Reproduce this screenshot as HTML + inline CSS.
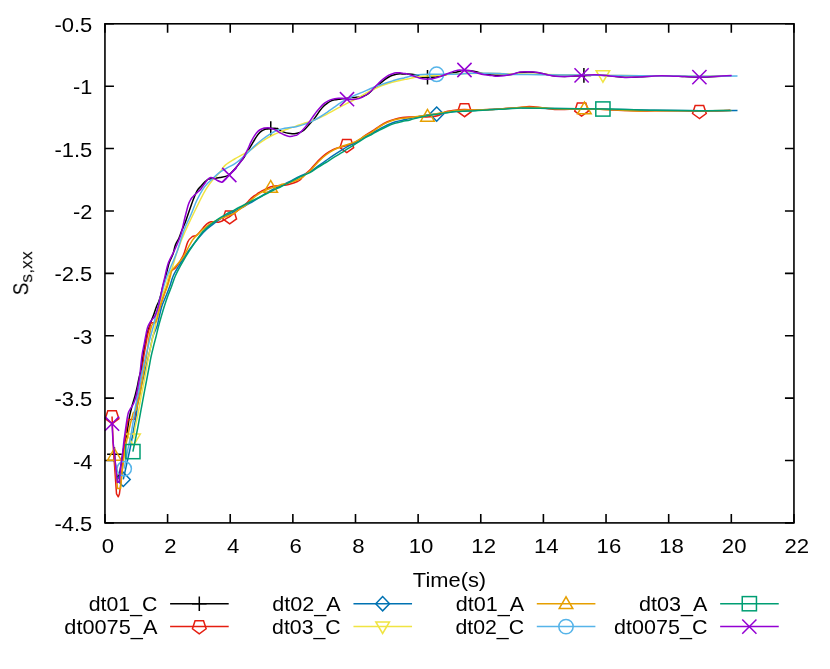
<!DOCTYPE html>
<html lang="en"><head><meta charset="utf-8"><title>S_s,xx vs Time(s)</title>
<style>html,body{margin:0;padding:0;background:#fff;}svg{display:block;}text{font-family:"Liberation Sans",sans-serif;fill:#000;}</style></head><body>
<svg width="830" height="669" viewBox="0 0 830 669" role="img" aria-label="Line chart of S s,xx versus Time(s) for eight series">
<rect x="0" y="0" width="830" height="669" fill="#ffffff"/>
<path d="M104.95,522.90V513.90M104.95,23.80V32.80M167.59,522.90V513.90M167.59,23.80V32.80M230.22,522.90V513.90M230.22,23.80V32.80M292.86,522.90V513.90M292.86,23.80V32.80M355.50,522.90V513.90M355.50,23.80V32.80M418.13,522.90V513.90M418.13,23.80V32.80M480.77,522.90V513.90M480.77,23.80V32.80M543.40,522.90V513.90M543.40,23.80V32.80M606.04,522.90V513.90M606.04,23.80V32.80M668.68,522.90V513.90M668.68,23.80V32.80M731.31,522.90V513.90M731.31,23.80V32.80M793.95,522.90V513.90M793.95,23.80V32.80M104.95,23.80H113.95M793.95,23.80H784.95M104.95,86.19H113.95M793.95,86.19H784.95M104.95,148.57H113.95M793.95,148.57H784.95M104.95,210.96H113.95M793.95,210.96H784.95M104.95,273.35H113.95M793.95,273.35H784.95M104.95,335.74H113.95M793.95,335.74H784.95M104.95,398.12H113.95M793.95,398.12H784.95M104.95,460.51H113.95M793.95,460.51H784.95M104.95,522.90H113.95M793.95,522.90H784.95" fill="none" stroke="#000" stroke-width="1.60"/>
<g style="mix-blend-mode:multiply">
<text x="107.85" y="553.00" text-anchor="middle" font-size="19.80" textLength="12.34" lengthAdjust="spacingAndGlyphs">0</text>
<text x="170.49" y="553.00" text-anchor="middle" font-size="19.80" textLength="12.34" lengthAdjust="spacingAndGlyphs">2</text>
<text x="233.12" y="553.00" text-anchor="middle" font-size="19.80" textLength="12.34" lengthAdjust="spacingAndGlyphs">4</text>
<text x="295.76" y="553.00" text-anchor="middle" font-size="19.80" textLength="12.34" lengthAdjust="spacingAndGlyphs">6</text>
<text x="358.40" y="553.00" text-anchor="middle" font-size="19.80" textLength="12.34" lengthAdjust="spacingAndGlyphs">8</text>
<text x="421.03" y="553.00" text-anchor="middle" font-size="19.80" textLength="24.68" lengthAdjust="spacingAndGlyphs">10</text>
<text x="483.67" y="553.00" text-anchor="middle" font-size="19.80" textLength="24.68" lengthAdjust="spacingAndGlyphs">12</text>
<text x="546.30" y="553.00" text-anchor="middle" font-size="19.80" textLength="24.68" lengthAdjust="spacingAndGlyphs">14</text>
<text x="608.94" y="553.00" text-anchor="middle" font-size="19.80" textLength="24.68" lengthAdjust="spacingAndGlyphs">16</text>
<text x="671.58" y="553.00" text-anchor="middle" font-size="19.80" textLength="24.68" lengthAdjust="spacingAndGlyphs">18</text>
<text x="734.21" y="553.00" text-anchor="middle" font-size="19.80" textLength="24.68" lengthAdjust="spacingAndGlyphs">20</text>
<text x="796.85" y="553.00" text-anchor="middle" font-size="19.80" textLength="24.68" lengthAdjust="spacingAndGlyphs">22</text>
<text x="92.30" y="31.90" text-anchor="end" font-size="19.80" textLength="37.85" lengthAdjust="spacingAndGlyphs">-0.5</text>
<text x="92.30" y="94.29" text-anchor="end" font-size="19.80" textLength="19.34" lengthAdjust="spacingAndGlyphs">-1</text>
<text x="92.30" y="156.67" text-anchor="end" font-size="19.80" textLength="37.85" lengthAdjust="spacingAndGlyphs">-1.5</text>
<text x="92.30" y="219.06" text-anchor="end" font-size="19.80" textLength="19.34" lengthAdjust="spacingAndGlyphs">-2</text>
<text x="92.30" y="281.45" text-anchor="end" font-size="19.80" textLength="37.85" lengthAdjust="spacingAndGlyphs">-2.5</text>
<text x="92.30" y="343.84" text-anchor="end" font-size="19.80" textLength="19.34" lengthAdjust="spacingAndGlyphs">-3</text>
<text x="92.30" y="406.23" text-anchor="end" font-size="19.80" textLength="37.85" lengthAdjust="spacingAndGlyphs">-3.5</text>
<text x="92.30" y="468.61" text-anchor="end" font-size="19.80" textLength="19.34" lengthAdjust="spacingAndGlyphs">-4</text>
<text x="92.30" y="531.00" text-anchor="end" font-size="19.80" textLength="37.85" lengthAdjust="spacingAndGlyphs">-4.5</text>
<text x="449.50" y="587.00" text-anchor="middle" font-size="19.80" textLength="73.31" lengthAdjust="spacingAndGlyphs">Time(s)</text>
<g transform="translate(28.2,295.0) rotate(-90)">
<text x="-0.30" y="0.00" text-anchor="start" font-size="21.90" textLength="12.62" lengthAdjust="spacingAndGlyphs">S</text>
<text x="12.32" y="3.90" text-anchor="start" font-size="17.00" textLength="31.46" lengthAdjust="spacingAndGlyphs">s,xx</text>
</g>
</g>
<g>
<path d="M114.40,454.20L116.00,470.00L117.50,479.50L119.50,474.00L121.50,462.00C122.17,457.83 122.88,452.67 123.50,449.00C124.12,445.33 124.72,442.17 125.20,440.00C125.68,437.83 125.90,438.50 126.40,436.00C126.90,433.50 127.67,428.33 128.20,425.00C128.73,421.67 128.92,419.33 129.60,416.00C130.28,412.67 131.40,408.33 132.30,405.00C133.20,401.67 134.18,399.00 135.00,396.00C135.82,393.00 136.53,390.00 137.20,387.00C137.87,384.00 138.30,381.07 139.00,378.00C139.70,374.93 140.82,371.67 141.40,368.60C141.98,365.53 141.93,363.53 142.50,359.60C143.07,355.67 144.13,348.93 144.80,345.00C145.47,341.07 145.88,338.67 146.50,336.00C147.12,333.33 147.93,330.83 148.50,329.00C149.07,327.17 149.38,326.50 149.90,325.00C150.42,323.50 151.05,321.50 151.60,320.00C152.15,318.50 152.35,318.33 153.20,316.00C154.05,313.67 155.77,308.43 156.70,306.00C157.63,303.57 158.17,303.07 158.80,301.40C159.43,299.73 159.80,298.57 160.50,296.00C161.20,293.43 162.20,289.00 163.00,286.00C163.80,283.00 164.27,281.87 165.30,278.00C166.33,274.13 167.92,266.80 169.20,262.80C170.48,258.80 171.97,256.97 173.00,254.00C174.03,251.03 174.40,247.67 175.40,245.00C176.40,242.33 177.97,240.33 179.00,238.00C180.03,235.67 180.67,233.33 181.60,231.00C182.53,228.67 183.73,226.17 184.60,224.00C185.47,221.83 185.38,222.00 186.80,218.00C188.22,214.00 191.37,204.55 193.10,200.00C194.83,195.45 195.90,193.00 197.20,190.70C198.50,188.40 199.53,187.75 200.90,186.20C202.27,184.65 204.15,182.58 205.40,181.40C206.65,180.22 207.02,179.57 208.40,179.10C209.78,178.63 211.77,178.87 213.70,178.60C215.63,178.33 217.63,178.00 220.00,177.50C222.37,177.00 225.98,176.43 227.90,175.60C229.82,174.77 230.07,173.93 231.50,172.50C232.93,171.07 235.00,168.78 236.50,167.00C238.00,165.22 239.22,163.45 240.50,161.80C241.78,160.15 242.47,159.75 244.20,157.10C245.93,154.45 249.15,148.83 250.90,145.90C252.65,142.97 253.45,141.50 254.70,139.50C255.95,137.50 257.15,135.38 258.40,133.90C259.65,132.42 260.95,131.40 262.20,130.60C263.45,129.80 264.78,129.42 265.90,129.10C267.02,128.78 267.55,128.78 268.90,128.70C270.25,128.62 272.50,128.57 274.00,128.60C275.50,128.63 276.77,128.52 277.90,128.90C279.03,129.28 279.68,130.32 280.80,130.90C281.92,131.48 283.35,132.00 284.60,132.40C285.85,132.80 287.05,133.07 288.30,133.30C289.55,133.53 290.82,133.77 292.10,133.80C293.38,133.83 294.72,133.72 296.00,133.50C297.28,133.28 298.43,133.08 299.80,132.50C301.17,131.92 302.57,131.42 304.20,130.00C305.83,128.58 307.85,125.98 309.60,124.00C311.35,122.02 312.98,120.33 314.70,118.10C316.42,115.87 318.42,112.58 319.90,110.60C321.38,108.62 322.35,107.43 323.60,106.20C324.85,104.97 326.15,104.08 327.40,103.20C328.65,102.32 329.87,101.47 331.10,100.90C332.33,100.33 333.55,100.07 334.80,99.80C336.05,99.53 337.32,99.47 338.60,99.30C339.88,99.13 341.10,98.98 342.50,98.80C343.90,98.62 345.50,98.40 347.00,98.20C348.50,98.00 350.13,97.73 351.50,97.60C352.87,97.47 353.87,97.50 355.20,97.40C356.53,97.30 358.08,97.23 359.50,97.00C360.92,96.77 362.28,96.53 363.70,96.00C365.12,95.47 366.45,94.88 368.00,93.80C369.55,92.72 371.40,90.83 373.00,89.50C374.60,88.17 376.20,86.98 377.60,85.80C379.00,84.62 380.15,83.47 381.40,82.40C382.65,81.33 383.87,80.30 385.10,79.40C386.33,78.50 387.55,77.68 388.80,77.00C390.05,76.32 391.35,75.77 392.60,75.30C393.85,74.83 395.07,74.45 396.30,74.20C397.53,73.95 398.72,73.83 400.00,73.80C401.28,73.77 402.75,73.98 404.00,74.00C405.25,74.02 405.68,73.78 407.50,73.90C409.32,74.02 413.07,74.35 414.90,74.70C416.73,75.05 417.25,75.57 418.50,76.00C419.75,76.43 420.50,77.05 422.40,77.30C424.30,77.55 427.40,77.59 429.90,77.50C432.40,77.41 435.22,77.08 437.40,76.75C439.58,76.42 441.13,75.97 443.00,75.50C444.87,75.03 446.43,74.45 448.60,73.90C450.77,73.35 454.10,72.65 456.00,72.20C457.90,71.75 458.97,71.47 460.00,71.20C461.03,70.93 460.58,70.67 462.20,70.60C463.82,70.53 467.20,70.58 469.70,70.80C472.20,71.02 474.72,71.35 477.20,71.90C479.68,72.45 482.13,73.58 484.60,74.10C487.07,74.62 489.43,74.80 492.00,75.00C494.57,75.20 496.82,75.37 500.00,75.30C503.18,75.23 507.75,75.07 511.10,74.60C514.45,74.13 517.12,72.93 520.10,72.50C523.08,72.07 526.02,71.95 529.00,72.00C531.98,72.05 535.00,72.38 538.00,72.80C541.00,73.22 544.02,73.97 547.00,74.50C549.98,75.03 552.92,75.68 555.90,76.00C558.88,76.32 561.90,76.42 564.90,76.40C567.90,76.38 570.73,76.07 573.90,75.90C577.07,75.73 580.40,75.57 583.90,75.40C587.40,75.23 590.57,74.83 594.90,74.90C599.23,74.97 604.92,75.42 609.90,75.80C614.88,76.18 619.82,77.03 624.80,77.20C629.78,77.37 634.82,77.02 639.80,76.80C644.78,76.58 649.72,76.05 654.70,75.90C659.68,75.75 664.72,75.80 669.70,75.90C674.68,76.00 679.65,76.32 684.60,76.50C689.55,76.68 694.33,77.02 699.40,77.00C704.47,76.98 709.68,76.62 715.00,76.40C720.32,76.18 728.58,75.82 731.30,75.70" fill="none" stroke="#000000" stroke-width="1.50" stroke-linejoin="round"/>
<path d="M107.10,454.20H121.70M114.40,446.90V461.50" fill="none" stroke="#000000" stroke-width="1.50"/>
<path d="M263.45,128.60H278.05M270.75,121.30V135.90" fill="none" stroke="#000000" stroke-width="1.50"/>
<path d="M420.20,77.30H434.80M427.50,70.00V84.60" fill="none" stroke="#000000" stroke-width="1.50"/>
<path d="M576.60,75.40H591.20M583.90,68.10V82.70" fill="none" stroke="#000000" stroke-width="1.50"/>
</g>
<g>
<path d="M112.05,416.50L113.40,449.00L115.00,472.00L116.50,493.80L118.30,496.80L119.40,494.00L120.60,484.80L123.30,457.90L125.00,440.00C125.62,434.52 126.47,428.42 127.00,425.00L128.20,419.50L134.60,419.20L135.80,410.00L137.50,397.00C138.13,393.00 138.95,389.50 139.60,386.00C140.25,382.50 140.90,379.33 141.40,376.00C141.90,372.67 142.18,369.33 142.60,366.00C143.02,362.67 143.40,359.33 143.90,356.00C144.40,352.67 145.03,349.33 145.60,346.00C146.17,342.67 146.82,338.67 147.35,336.00C147.88,333.33 148.39,331.42 148.80,330.00C149.21,328.58 149.55,328.63 149.80,327.50L150.30,323.20L155.30,322.30L156.00,320.00C156.35,318.95 156.70,318.33 157.40,316.00C158.10,313.67 159.17,309.33 160.20,306.00C161.23,302.67 162.50,299.33 163.60,296.00C164.70,292.67 165.90,289.00 166.80,286.00C167.70,283.00 168.37,280.38 169.00,278.00C169.63,275.62 169.45,273.48 170.60,271.70C171.75,269.92 173.78,270.03 175.90,267.30C178.02,264.57 181.32,259.53 183.30,255.30C185.28,251.07 186.30,245.02 187.80,241.90C189.30,238.78 190.80,237.73 192.30,236.60C193.80,235.47 194.93,236.63 196.80,235.10C198.67,233.57 201.77,229.30 203.50,227.40C205.23,225.50 205.97,224.63 207.20,223.70C208.43,222.77 209.65,222.12 210.90,221.80C212.15,221.48 213.45,221.73 214.70,221.80C215.95,221.87 217.15,222.33 218.40,222.20C219.65,222.07 220.95,221.57 222.20,221.00C223.45,220.43 224.65,219.53 225.90,218.80C227.15,218.07 227.82,217.90 229.70,216.60C231.58,215.30 234.98,212.72 237.20,211.00C239.42,209.28 241.37,207.65 243.00,206.30C244.63,204.95 245.85,204.02 247.00,202.90C248.15,201.78 248.92,200.60 249.90,199.60C250.88,198.60 251.90,197.70 252.90,196.90C253.90,196.10 254.90,195.50 255.90,194.80C256.90,194.10 257.90,193.35 258.90,192.70C259.90,192.05 260.90,191.45 261.90,190.90C262.90,190.35 263.90,189.88 264.90,189.40C265.90,188.92 266.90,188.43 267.90,188.00C268.90,187.57 269.92,187.13 270.90,186.80C271.88,186.47 272.28,186.22 273.80,186.00C275.32,185.78 277.92,185.67 280.00,185.50C282.08,185.33 284.30,185.33 286.30,185.00C288.30,184.67 290.25,184.05 292.00,183.50C293.75,182.95 295.47,182.28 296.80,181.70C298.13,181.12 299.07,180.78 300.00,180.00C300.93,179.22 301.57,177.92 302.40,177.00C303.23,176.08 303.58,175.85 305.00,174.50C306.42,173.15 308.67,171.22 310.90,168.90C313.13,166.58 315.90,163.10 318.40,160.60C320.90,158.10 323.40,155.77 325.90,153.90C328.40,152.03 331.28,150.45 333.40,149.40C335.52,148.35 336.37,148.25 338.60,147.60C340.83,146.95 344.12,146.30 346.80,145.50C349.48,144.70 352.50,143.80 354.70,142.80C356.90,141.80 358.30,140.70 360.00,139.50C361.70,138.30 362.83,137.02 364.90,135.60C366.97,134.18 369.90,132.63 372.40,131.00C374.90,129.37 377.40,127.35 379.90,125.80C382.40,124.25 384.92,122.82 387.40,121.70C389.88,120.58 392.32,119.78 394.80,119.10C397.28,118.42 399.77,117.95 402.30,117.60C404.83,117.25 407.23,117.15 410.00,117.00C412.77,116.85 416.17,116.70 418.90,116.70C421.63,116.70 423.28,117.15 426.40,117.00C429.52,116.85 434.48,116.63 437.60,115.80C440.72,114.97 442.60,112.88 445.10,112.00C447.60,111.12 449.45,110.97 452.60,110.55C455.75,110.13 460.27,109.61 464.00,109.50C467.73,109.39 470.68,109.88 475.00,109.90C479.32,109.92 484.90,109.82 489.90,109.60C494.90,109.38 499.98,108.97 505.00,108.60C510.02,108.23 515.95,107.75 520.00,107.40C524.05,107.05 526.00,106.50 529.30,106.50C532.60,106.50 535.57,106.90 539.80,107.40C544.03,107.90 549.72,109.20 554.70,109.50C559.68,109.80 565.22,109.25 569.70,109.20C574.18,109.15 576.55,109.18 581.60,109.20C586.65,109.22 592.80,109.07 600.00,109.30C607.20,109.53 618.17,110.32 624.80,110.60C631.43,110.88 634.82,110.97 639.80,111.00C644.78,111.03 648.00,110.83 654.70,110.80C661.40,110.77 672.55,110.73 680.00,110.80C687.45,110.87 693.57,111.18 699.40,111.20C705.23,111.22 709.90,111.05 715.00,110.90C720.10,110.75 727.50,110.40 730.00,110.30" fill="none" stroke="#e51e10" stroke-width="1.50" stroke-linejoin="round"/>
<path d="M112.05,423.70L105.20,418.72L107.82,410.68L116.28,410.68L118.90,418.72Z" fill="none" stroke="#e51e10" stroke-width="1.50"/>
<path d="M229.70,223.90L222.85,218.92L225.47,210.88L233.93,210.88L236.55,218.92Z" fill="none" stroke="#e51e10" stroke-width="1.50"/>
<path d="M346.80,152.60L339.95,147.62L342.57,139.58L351.03,139.58L353.65,147.62Z" fill="none" stroke="#e51e10" stroke-width="1.50"/>
<path d="M464.50,116.70L457.65,111.72L460.27,103.68L468.73,103.68L471.35,111.72Z" fill="none" stroke="#e51e10" stroke-width="1.50"/>
<path d="M581.60,116.10L574.75,111.12L577.37,103.08L585.83,103.08L588.45,111.12Z" fill="none" stroke="#e51e10" stroke-width="1.50"/>
<path d="M699.40,118.50L692.55,113.52L695.17,105.48L703.63,105.48L706.25,113.52Z" fill="none" stroke="#e51e10" stroke-width="1.50"/>
</g>
<g>
<path d="M123.30,479.40L129.80,450.00C131.28,443.02 131.45,441.50 132.20,437.50C132.95,433.50 133.63,429.58 134.30,426.00C134.97,422.42 135.68,419.33 136.20,416.00C136.72,412.67 136.87,409.33 137.40,406.00C137.93,402.67 138.73,399.33 139.40,396.00C140.07,392.67 140.67,389.33 141.40,386.00C142.13,382.67 143.00,379.33 143.80,376.00C144.60,372.67 145.40,369.33 146.20,366.00C147.00,362.67 147.83,359.33 148.60,356.00C149.37,352.67 150.07,349.33 150.80,346.00C151.53,342.67 151.95,339.33 153.00,336.00C154.05,332.67 156.03,329.33 157.10,326.00C158.17,322.67 158.60,319.33 159.40,316.00C160.20,312.67 160.80,309.33 161.90,306.00C163.00,302.67 164.67,299.33 166.00,296.00C167.33,292.67 168.70,289.33 169.90,286.00C171.10,282.67 171.70,279.37 173.20,276.00C174.70,272.63 176.33,270.00 178.90,265.80C181.47,261.60 185.12,255.70 188.60,250.80C192.08,245.90 196.73,240.03 199.80,236.40C202.87,232.77 204.52,231.25 207.00,229.00C209.48,226.75 212.53,224.53 214.70,222.90C216.87,221.27 218.13,220.38 220.00,219.20C221.87,218.02 223.67,216.98 225.90,215.80C228.13,214.62 231.38,213.15 233.40,212.10C235.42,211.05 236.23,210.43 238.00,209.50C239.77,208.57 242.02,207.55 244.00,206.50C245.98,205.45 247.92,204.35 249.90,203.20C251.88,202.05 253.90,200.80 255.90,199.60C257.90,198.40 259.90,197.25 261.90,196.00C263.90,194.75 265.92,193.29 267.90,192.10C269.88,190.91 271.78,189.83 273.80,188.85C275.82,187.87 278.17,187.04 280.00,186.20C281.83,185.36 282.80,184.78 284.80,183.80C286.80,182.82 289.47,181.58 292.00,180.30C294.53,179.02 297.02,177.50 300.00,176.10C302.98,174.70 306.83,173.60 309.90,171.90C312.97,170.20 315.73,167.78 318.40,165.90C321.07,164.02 323.40,162.35 325.90,160.60C328.40,158.85 330.92,157.07 333.40,155.40C335.88,153.73 338.32,152.15 340.80,150.60C343.28,149.05 346.05,147.35 348.30,146.10C350.55,144.85 352.77,143.95 354.30,143.10C355.83,142.25 355.73,142.08 357.50,141.00C359.27,139.92 362.42,137.95 364.90,136.60C367.38,135.25 369.90,134.20 372.40,132.90C374.90,131.60 377.40,130.12 379.90,128.80C382.40,127.48 384.92,126.13 387.40,125.00C389.88,123.87 392.32,122.80 394.80,122.00C397.28,121.20 399.77,120.77 402.30,120.20C404.83,119.63 407.23,119.20 410.00,118.60C412.77,118.00 416.17,117.20 418.90,116.60C421.63,116.00 423.43,115.42 426.40,115.00C429.37,114.58 432.97,114.57 436.70,114.10C440.43,113.63 444.25,112.72 448.80,112.20C453.35,111.68 459.63,111.27 464.00,111.00C468.37,110.73 470.68,110.83 475.00,110.60C479.32,110.37 484.90,109.90 489.90,109.60C494.90,109.30 499.98,109.10 505.00,108.80C510.02,108.50 516.70,107.93 520.00,107.80C523.30,107.67 519.02,107.87 524.80,108.00C530.58,108.13 542.17,108.42 554.70,108.60C567.23,108.78 588.32,108.93 600.00,109.10C611.68,109.27 615.68,109.40 624.80,109.60C633.92,109.80 642.17,110.12 654.70,110.30C667.23,110.48 686.20,110.67 700.00,110.70C713.80,110.73 731.25,110.53 737.50,110.50" fill="none" stroke="#0072b2" stroke-width="1.50" stroke-linejoin="round"/>
<path d="M123.30,472.30L116.40,479.40L123.30,486.50L130.20,479.40Z" fill="none" stroke="#0072b2" stroke-width="1.50"/>
<path d="M436.70,107.00L429.80,114.10L436.70,121.20L443.60,114.10Z" fill="none" stroke="#0072b2" stroke-width="1.50"/>
</g>
<g>
<path d="M133.50,438.70L135.00,428.00C135.68,424.22 136.87,419.67 137.60,416.00C138.33,412.33 138.80,409.33 139.40,406.00C140.00,402.67 140.57,399.33 141.20,396.00C141.83,392.67 142.55,389.33 143.20,386.00C143.85,382.67 144.47,379.33 145.10,376.00C145.73,372.67 146.39,369.33 147.00,366.00C147.61,362.67 148.10,359.33 148.75,356.00C149.40,352.67 150.19,349.33 150.90,346.00C151.61,342.67 152.25,339.33 153.00,336.00C153.75,332.67 154.75,329.33 155.40,326.00C156.05,322.67 156.22,319.33 156.90,316.00C157.58,312.67 158.63,309.33 159.50,306.00C160.37,302.67 161.03,299.33 162.10,296.00C163.17,292.67 164.78,289.33 165.90,286.00C167.02,282.67 167.78,278.87 168.80,276.00C169.82,273.13 170.63,272.80 172.00,268.80C173.37,264.80 174.85,258.13 177.00,252.00C179.15,245.87 181.03,240.67 184.90,232.00C188.77,223.33 196.65,207.18 200.20,200.00C203.75,192.82 204.20,192.13 206.20,188.90C208.20,185.67 209.97,183.35 212.20,180.60C214.43,177.85 217.37,175.02 219.60,172.40C221.83,169.78 223.10,167.13 225.60,164.90C228.10,162.67 231.62,160.80 234.60,159.00C237.58,157.20 240.78,155.67 243.50,154.10C246.22,152.53 248.42,151.28 250.90,149.60C253.38,147.92 255.90,145.80 258.40,144.00C260.90,142.20 263.40,140.35 265.90,138.80C268.40,137.25 270.92,135.88 273.40,134.70C275.88,133.52 278.32,132.70 280.80,131.70C283.28,130.70 285.77,129.63 288.30,128.70C290.83,127.77 293.23,127.05 296.00,126.10C298.77,125.15 302.78,123.70 304.90,123.00C307.02,122.30 306.82,122.53 308.70,121.90C310.58,121.27 313.72,120.20 316.20,119.20C318.68,118.20 321.12,117.13 323.60,115.90C326.08,114.67 328.60,113.17 331.10,111.80C333.60,110.43 336.12,109.02 338.60,107.70C341.08,106.38 343.85,105.00 346.00,103.90C348.15,102.80 349.35,102.18 351.50,101.10C353.65,100.02 356.42,98.77 358.90,97.40C361.38,96.03 363.90,94.28 366.40,92.90C368.90,91.52 371.40,90.28 373.90,89.10C376.40,87.92 378.92,86.78 381.40,85.80C383.88,84.82 386.32,83.97 388.80,83.20C391.28,82.43 394.43,81.65 396.30,81.20C398.17,80.75 398.72,80.77 400.00,80.50C401.28,80.23 402.75,79.85 404.00,79.60C405.25,79.35 405.68,79.38 407.50,79.00C409.32,78.62 412.42,77.77 414.90,77.30C417.38,76.83 419.90,76.45 422.40,76.20C424.90,75.95 427.40,75.93 429.90,75.80C432.40,75.67 434.88,75.57 437.40,75.40C439.92,75.23 442.12,75.03 445.00,74.80C447.88,74.57 448.87,74.27 454.70,74.00C460.53,73.73 469.12,73.20 480.00,73.20C490.88,73.20 506.67,73.73 520.00,74.00C533.33,74.27 546.18,74.58 560.00,74.80C573.82,75.02 589.57,75.13 602.90,75.30C616.23,75.47 627.15,75.65 640.00,75.80C652.85,75.95 664.83,76.17 680.00,76.20C695.17,76.23 722.50,76.03 731.00,76.00" fill="none" stroke="#f0e442" stroke-width="1.50" stroke-linejoin="round"/>
<path d="M133.50,445.60L126.70,434.10L140.30,434.10Z" fill="none" stroke="#f0e442" stroke-width="1.50"/>
<path d="M602.90,82.20L596.10,70.70L609.70,70.70Z" fill="none" stroke="#f0e442" stroke-width="1.50"/>
</g>
<g>
<path d="M114.40,455.30L117.50,488.40L120.60,488.40L121.90,474.00L124.60,452.00C125.57,445.67 126.70,440.83 127.70,436.00C128.70,431.17 129.82,426.33 130.60,423.00C131.38,419.67 132.00,417.62 132.40,416.00L133.00,413.30L136.40,409.50L137.70,403.20C138.22,400.95 138.90,398.87 139.50,396.00C140.10,393.13 140.72,389.33 141.30,386.00C141.88,382.67 142.45,379.33 143.00,376.00C143.55,372.67 144.00,369.33 144.60,366.00C145.20,362.67 146.05,359.33 146.60,356.00C147.15,352.67 147.46,349.33 147.90,346.00C148.34,342.67 148.63,339.33 149.25,336.00C149.87,332.67 150.97,328.00 151.60,326.00C152.22,324.00 152.30,324.67 153.00,324.00C153.70,323.33 155.08,323.00 155.80,322.00C156.52,321.00 156.90,319.50 157.30,318.00C157.70,316.50 157.72,315.00 158.20,313.00C158.68,311.00 159.30,308.83 160.20,306.00C161.10,303.17 162.38,299.33 163.60,296.00C164.82,292.67 166.42,289.33 167.55,286.00C168.68,282.67 169.64,278.62 170.40,276.00C171.16,273.38 170.93,272.25 172.10,270.30C173.27,268.35 175.53,266.55 177.40,264.30C179.27,262.05 180.82,260.78 183.30,256.80C185.78,252.82 189.55,244.48 192.30,240.40C195.05,236.32 197.93,234.22 199.80,232.30C201.67,230.38 201.65,230.40 203.50,228.90C205.35,227.40 208.42,224.87 210.90,223.30C213.38,221.73 215.90,220.62 218.40,219.50C220.90,218.38 223.40,217.58 225.90,216.60C228.40,215.62 231.38,214.63 233.40,213.60C235.42,212.57 236.23,211.58 238.00,210.40C239.77,209.22 242.50,207.55 244.00,206.50C245.50,205.45 246.02,205.00 247.00,204.10C247.98,203.20 248.92,202.05 249.90,201.10C250.88,200.15 251.90,199.25 252.90,198.40C253.90,197.55 254.90,196.75 255.90,196.00C256.90,195.25 257.90,194.55 258.90,193.90C259.90,193.25 260.90,192.65 261.90,192.10C262.90,191.55 263.90,191.05 264.90,190.60C265.90,190.15 266.42,189.98 267.90,189.40C269.38,188.82 271.78,187.80 273.80,187.10C275.82,186.40 278.65,185.67 280.00,185.20C281.35,184.73 280.85,184.55 281.90,184.30C282.95,184.05 284.57,184.10 286.30,183.70C288.03,183.30 290.02,182.73 292.30,181.90C294.58,181.07 298.32,179.45 300.00,178.70C301.68,177.95 301.57,178.02 302.40,177.40C303.23,176.78 303.58,176.23 305.00,175.00C306.42,173.77 308.67,172.22 310.90,170.00C313.13,167.78 315.90,164.20 318.40,161.70C320.90,159.20 323.40,156.92 325.90,155.00C328.40,153.08 330.92,151.57 333.40,150.20C335.88,148.83 338.32,147.80 340.80,146.80C343.28,145.80 345.77,145.12 348.30,144.20C350.83,143.28 353.23,142.68 356.00,141.30C358.77,139.92 362.17,137.48 364.90,135.90C367.63,134.32 369.90,133.37 372.40,131.80C374.90,130.23 377.40,128.07 379.90,126.50C382.40,124.93 384.92,123.52 387.40,122.40C389.88,121.28 392.32,120.48 394.80,119.80C397.28,119.12 399.77,118.67 402.30,118.30C404.83,117.93 407.23,117.93 410.00,117.60C412.77,117.27 416.17,116.67 418.90,116.30C421.63,115.93 423.90,115.73 426.40,115.40C428.90,115.07 431.40,114.73 433.90,114.30C436.40,113.87 438.92,113.23 441.40,112.80C443.88,112.37 446.32,112.08 448.80,111.70C451.28,111.33 453.77,110.83 456.30,110.55C458.83,110.27 460.88,110.09 464.00,110.00C467.12,109.91 470.68,110.08 475.00,110.00C479.32,109.92 484.90,109.73 489.90,109.50C494.90,109.27 499.98,108.93 505.00,108.60C510.02,108.27 516.70,107.72 520.00,107.50C523.30,107.28 521.50,107.28 524.80,107.30C528.10,107.32 534.82,107.35 539.80,107.60C544.78,107.85 547.35,108.58 554.70,108.80C562.05,109.02 576.35,108.83 583.90,108.90C591.45,108.97 593.18,108.95 600.00,109.20C606.82,109.45 618.17,110.12 624.80,110.40C631.43,110.68 634.82,110.85 639.80,110.90C644.78,110.95 644.67,110.72 654.70,110.70C664.73,110.68 687.23,110.85 700.00,110.80C712.77,110.75 726.08,110.47 731.30,110.40" fill="none" stroke="#e69f00" stroke-width="1.50" stroke-linejoin="round"/>
<path d="M114.40,448.40L107.60,460.20L121.20,460.20Z" fill="none" stroke="#e69f00" stroke-width="1.50"/>
<path d="M270.70,180.50L263.90,192.30L277.50,192.30Z" fill="none" stroke="#e69f00" stroke-width="1.50"/>
<path d="M427.50,109.40L420.70,121.20L434.30,121.20Z" fill="none" stroke="#e69f00" stroke-width="1.50"/>
<path d="M584.40,102.00L577.60,113.80L591.20,113.80Z" fill="none" stroke="#e69f00" stroke-width="1.50"/>
</g>
<g>
<path d="M124.20,468.70L127.30,452.00C128.40,446.55 129.68,442.00 130.80,436.00C131.92,430.00 133.20,421.00 134.00,416.00C134.80,411.00 135.00,409.33 135.60,406.00C136.20,402.67 136.93,399.33 137.60,396.00C138.27,392.67 138.97,389.33 139.60,386.00C140.23,382.67 140.75,379.33 141.40,376.00C142.05,372.67 142.77,369.33 143.50,366.00C144.23,362.67 145.02,359.33 145.80,356.00C146.58,352.67 147.40,349.33 148.20,346.00C149.00,342.67 149.72,339.33 150.60,336.00C151.48,332.67 152.80,328.72 153.50,326.00C154.20,323.28 154.47,321.37 154.80,319.70C155.13,318.03 154.92,318.28 155.50,316.00C156.08,313.72 157.42,309.33 158.30,306.00C159.18,302.67 159.88,299.33 160.80,296.00C161.72,292.67 162.77,289.33 163.80,286.00C164.83,282.67 165.63,279.67 167.00,276.00C168.37,272.33 170.37,267.95 172.00,264.00C173.63,260.05 174.78,257.98 176.80,252.30C178.82,246.62 181.77,236.12 184.10,229.90C186.43,223.68 188.65,219.98 190.80,215.00C192.95,210.02 194.68,204.73 197.00,200.00C199.32,195.27 202.17,190.08 204.70,186.60C207.23,183.12 209.72,181.47 212.20,179.10C214.68,176.73 217.12,174.27 219.60,172.40C222.08,170.53 224.60,169.33 227.10,167.90C229.60,166.47 232.50,165.12 234.60,163.80C236.70,162.48 237.60,161.75 239.70,160.00C241.80,158.25 244.70,155.65 247.20,153.30C249.70,150.95 252.20,148.20 254.70,145.90C257.20,143.60 259.72,141.43 262.20,139.50C264.68,137.57 267.12,135.85 269.60,134.30C272.08,132.75 274.60,131.20 277.10,130.20C279.60,129.20 282.10,128.78 284.60,128.30C287.10,127.82 290.20,127.55 292.10,127.30C294.00,127.05 293.87,127.33 296.00,126.80C298.13,126.27 302.17,125.05 304.90,124.10C307.63,123.15 309.90,122.28 312.40,121.10C314.90,119.92 317.40,118.50 319.90,117.00C322.40,115.50 324.92,113.78 327.40,112.10C329.88,110.42 332.32,108.63 334.80,106.90C337.28,105.17 340.43,102.95 342.30,101.70C344.17,100.45 344.97,99.93 346.00,99.40C347.03,98.87 346.97,99.22 348.50,98.50C350.03,97.78 352.83,96.17 355.20,95.10C357.57,94.03 360.20,93.15 362.70,92.10C365.20,91.05 367.72,89.85 370.20,88.80C372.68,87.75 375.12,86.73 377.60,85.80C380.08,84.87 382.60,84.02 385.10,83.20C387.60,82.38 390.12,81.65 392.60,80.90C395.08,80.15 398.10,79.20 400.00,78.70C401.90,78.20 402.75,78.20 404.00,77.90C405.25,77.60 405.68,77.33 407.50,76.90C409.32,76.47 412.42,75.70 414.90,75.30C417.38,74.90 419.90,74.67 422.40,74.50C424.90,74.33 427.53,74.33 429.90,74.30C432.27,74.27 434.12,74.30 436.60,74.30C439.08,74.30 442.18,74.30 444.80,74.30C447.42,74.30 449.77,74.33 452.30,74.30C454.83,74.27 457.10,74.28 460.00,74.10C462.90,73.92 465.60,73.35 469.70,73.20C473.80,73.05 479.55,73.17 484.60,73.20C489.65,73.23 495.78,73.20 500.00,73.40C504.22,73.60 503.23,74.18 509.90,74.40C516.57,74.62 528.32,74.58 540.00,74.70C551.68,74.82 566.67,74.95 580.00,75.10C593.33,75.25 606.67,75.47 620.00,75.60C633.33,75.73 646.67,75.80 660.00,75.90C673.33,76.00 687.08,76.20 700.00,76.20C712.92,76.20 731.25,75.95 737.50,75.90" fill="none" stroke="#56b4e9" stroke-width="1.50" stroke-linejoin="round"/>
<circle cx="124.20" cy="468.70" r="7.20" fill="none" stroke="#56b4e9" stroke-width="1.50"/>
<circle cx="436.60" cy="74.30" r="7.20" fill="none" stroke="#56b4e9" stroke-width="1.50"/>
</g>
<g>
<path d="M132.90,451.60L136.10,436.00C136.90,432.07 137.07,431.33 137.70,428.00C138.33,424.67 139.22,419.67 139.90,416.00C140.58,412.33 141.13,409.33 141.75,406.00C142.37,402.67 142.97,399.33 143.60,396.00C144.22,392.67 144.87,389.33 145.50,386.00C146.13,382.67 146.77,379.33 147.40,376.00C148.03,372.67 148.67,369.33 149.30,366.00C149.93,362.67 150.48,359.33 151.20,356.00C151.92,352.67 152.77,349.33 153.60,346.00C154.43,342.67 155.37,339.33 156.20,336.00C157.03,332.67 157.73,329.33 158.60,326.00C159.47,322.67 160.43,319.33 161.40,316.00C162.37,312.67 163.33,309.33 164.40,306.00C165.47,302.67 166.58,299.33 167.80,296.00C169.02,292.67 170.45,289.33 171.70,286.00C172.95,282.67 173.85,279.37 175.30,276.00C176.75,272.63 178.07,270.00 180.40,265.80C182.73,261.60 186.07,255.85 189.30,250.80C192.53,245.75 197.43,238.78 199.80,235.50C202.17,232.22 201.65,232.95 203.50,231.10C205.35,229.25 208.42,226.45 210.90,224.40C213.38,222.35 215.90,220.48 218.40,218.80C220.90,217.12 223.40,215.67 225.90,214.30C228.40,212.93 231.38,211.65 233.40,210.60C235.42,209.55 236.23,208.93 238.00,208.00C239.77,207.07 242.02,206.00 244.00,205.00C245.98,204.00 247.92,203.00 249.90,202.00C251.88,201.00 253.90,200.00 255.90,199.00C257.90,198.00 259.90,197.00 261.90,196.00C263.90,195.00 265.92,194.00 267.90,193.00C269.88,192.00 271.78,190.95 273.80,190.00C275.82,189.05 278.17,188.18 280.00,187.30C281.83,186.42 282.80,185.75 284.80,184.70C286.80,183.65 289.47,182.32 292.00,181.00C294.53,179.68 297.02,178.18 300.00,176.80C302.98,175.42 306.83,174.33 309.90,172.70C312.97,171.07 315.73,168.70 318.40,167.00C321.07,165.30 323.40,164.06 325.90,162.50C328.40,160.94 330.92,159.20 333.40,157.65C335.88,156.10 338.32,154.74 340.80,153.20C343.28,151.66 345.52,150.17 348.30,148.40C351.08,146.63 354.73,144.35 357.50,142.60C360.27,140.85 362.42,139.33 364.90,137.90C367.38,136.47 369.90,135.33 372.40,134.00C374.90,132.67 377.40,131.20 379.90,129.90C382.40,128.60 384.92,127.28 387.40,126.20C389.88,125.12 392.32,124.20 394.80,123.40C397.28,122.60 399.77,121.98 402.30,121.40C404.83,120.82 407.23,120.57 410.00,119.90C412.77,119.23 416.17,118.07 418.90,117.40C421.63,116.73 423.90,116.37 426.40,115.90C428.90,115.43 431.40,115.00 433.90,114.60C436.40,114.20 438.92,113.87 441.40,113.50C443.88,113.13 446.32,112.72 448.80,112.40C451.28,112.08 453.77,111.80 456.30,111.60C458.83,111.40 460.88,111.33 464.00,111.20C467.12,111.07 470.68,111.05 475.00,110.80C479.32,110.55 484.90,110.02 489.90,109.70C494.90,109.38 499.98,109.18 505.00,108.90C510.02,108.62 516.70,108.15 520.00,108.00C523.30,107.85 519.02,107.92 524.80,108.00C530.58,108.08 541.68,108.33 554.70,108.50C567.72,108.67 591.22,108.83 602.90,109.00C614.58,109.17 616.17,109.28 624.80,109.50C633.43,109.72 642.17,110.10 654.70,110.30C667.23,110.50 687.32,110.67 700.00,110.70C712.68,110.73 725.67,110.53 730.80,110.50" fill="none" stroke="#009e73" stroke-width="1.50" stroke-linejoin="round"/>
<rect x="125.80" y="444.50" width="14.20" height="14.20" fill="none" stroke="#009e73" stroke-width="1.50"/>
<rect x="595.80" y="101.90" width="14.20" height="14.20" fill="none" stroke="#009e73" stroke-width="1.50"/>
</g>
<g>
<path d="M112.05,423.70L113.00,441.60L114.40,452.50L116.00,470.00L117.40,482.60L119.30,481.80L120.60,466.90L122.40,455.00L124.00,440.00C124.37,436.83 124.17,439.02 124.60,436.00C125.03,432.98 126.08,425.32 126.60,421.90C127.12,418.48 127.37,417.15 127.70,415.50C128.03,413.85 128.12,413.18 128.60,412.00C129.08,410.82 129.75,409.87 130.60,408.40C131.45,406.93 132.78,405.27 133.70,403.20C134.62,401.13 135.43,398.53 136.10,396.00C136.77,393.47 137.10,391.33 137.70,388.00C138.30,384.67 139.00,381.33 139.70,376.00C140.40,370.67 141.18,361.17 141.90,356.00C142.62,350.83 143.37,348.33 144.00,345.00C144.63,341.67 145.22,338.50 145.70,336.00C146.18,333.50 146.50,331.67 146.90,330.00C147.30,328.33 147.68,327.08 148.10,326.00C148.52,324.92 148.92,324.33 149.40,323.50C149.88,322.67 150.08,322.25 151.00,321.00C151.92,319.75 153.92,317.67 154.90,316.00C155.88,314.33 156.32,312.67 156.90,311.00C157.48,309.33 157.77,308.50 158.40,306.00C159.03,303.50 159.98,299.33 160.70,296.00C161.42,292.67 162.03,289.05 162.70,286.00C163.37,282.95 163.75,281.57 164.70,277.70C165.65,273.83 166.68,267.53 168.40,262.80C170.12,258.07 172.92,254.03 175.00,249.30C177.08,244.57 179.27,239.62 180.90,234.40C182.53,229.18 183.55,222.98 184.80,218.00C186.05,213.02 187.37,207.67 188.40,204.50C189.43,201.33 190.20,200.35 191.00,199.00C191.80,197.65 192.28,197.37 193.20,196.40C194.12,195.43 195.22,194.45 196.50,193.20C197.78,191.95 199.42,190.68 200.90,188.90C202.38,187.12 204.15,184.18 205.40,182.50C206.65,180.82 207.52,179.62 208.40,178.80C209.28,177.98 209.82,177.68 210.70,177.60C211.58,177.52 212.58,177.82 213.70,178.30C214.82,178.78 216.17,179.88 217.40,180.50C218.63,181.12 220.20,181.75 221.10,182.00C222.00,182.25 221.92,182.60 222.80,182.00C223.68,181.40 225.32,179.57 226.40,178.40C227.48,177.23 227.93,176.50 229.30,175.00C230.67,173.50 232.85,171.45 234.60,169.40C236.35,167.35 238.57,164.27 239.80,162.70C241.03,161.13 240.77,162.05 242.00,160.00C243.23,157.95 245.72,153.38 247.20,150.40C248.68,147.42 249.65,144.60 250.90,142.10C252.15,139.60 253.45,137.27 254.70,135.40C255.95,133.53 257.15,132.02 258.40,130.90C259.65,129.78 260.95,129.20 262.20,128.70C263.45,128.20 264.67,128.03 265.90,127.90C267.13,127.77 268.35,127.70 269.60,127.90C270.85,128.10 272.15,128.60 273.40,129.10C274.65,129.60 275.87,130.22 277.10,130.90C278.33,131.58 279.55,132.52 280.80,133.20C282.05,133.88 283.35,134.50 284.60,135.00C285.85,135.50 287.05,135.98 288.30,136.20C289.55,136.42 290.82,136.43 292.10,136.30C293.38,136.17 295.03,135.70 296.00,135.40C296.97,135.10 296.78,135.40 297.90,134.50C299.02,133.60 300.90,131.98 302.70,130.00C304.50,128.02 307.08,124.70 308.70,122.60C310.32,120.50 311.15,119.15 312.40,117.40C313.65,115.65 314.95,113.72 316.20,112.10C317.45,110.48 318.67,109.07 319.90,107.70C321.13,106.33 322.35,104.97 323.60,103.90C324.85,102.83 326.15,102.02 327.40,101.30C328.65,100.58 329.87,100.03 331.10,99.60C332.33,99.17 333.55,98.92 334.80,98.70C336.05,98.48 337.35,98.37 338.60,98.30C339.85,98.23 340.90,98.15 342.30,98.30C343.70,98.45 345.47,98.98 347.00,99.20C348.53,99.42 350.13,99.60 351.50,99.60C352.87,99.60 353.97,99.38 355.20,99.20C356.43,99.02 357.65,98.87 358.90,98.50C360.15,98.13 361.45,97.62 362.70,97.00C363.95,96.38 365.15,95.62 366.40,94.75C367.65,93.88 368.95,92.92 370.20,91.80C371.45,90.67 372.67,89.25 373.90,88.00C375.13,86.75 376.35,85.54 377.60,84.30C378.85,83.06 380.15,81.67 381.40,80.55C382.65,79.43 383.87,78.49 385.10,77.60C386.33,76.71 387.55,75.85 388.80,75.20C390.05,74.55 391.35,74.09 392.60,73.70C393.85,73.31 395.07,73.02 396.30,72.85C397.53,72.68 398.72,72.60 400.00,72.70C401.28,72.80 402.75,73.25 404.00,73.45C405.25,73.65 405.68,73.39 407.50,73.90C409.32,74.41 412.42,75.68 414.90,76.50C417.38,77.32 420.15,78.37 422.40,78.80C424.65,79.23 426.53,79.17 428.40,79.10C430.27,79.03 431.48,78.88 433.60,78.40C435.72,77.92 438.60,77.07 441.10,76.20C443.60,75.33 446.12,74.13 448.60,73.20C451.08,72.27 454.10,71.12 456.00,70.60C457.90,70.08 458.97,70.15 460.00,70.10C461.03,70.05 460.58,70.22 462.20,70.30C463.82,70.38 467.20,70.17 469.70,70.60C472.20,71.03 474.72,72.22 477.20,72.90C479.68,73.58 482.12,74.25 484.60,74.70C487.08,75.15 489.88,75.35 492.10,75.60C494.32,75.85 494.73,76.40 497.90,76.20C501.07,76.00 507.40,75.08 511.10,74.40C514.80,73.72 517.12,72.55 520.10,72.10C523.08,71.65 526.02,71.62 529.00,71.70C531.98,71.78 535.00,72.10 538.00,72.60C541.00,73.10 544.02,74.10 547.00,74.70C549.98,75.30 552.92,75.88 555.90,76.20C558.88,76.52 561.90,76.65 564.90,76.60C567.90,76.55 571.12,76.10 573.90,75.90C576.68,75.70 578.10,75.58 581.60,75.40C585.10,75.22 590.18,74.72 594.90,74.80C599.62,74.88 604.92,75.47 609.90,75.90C614.88,76.33 619.82,77.23 624.80,77.40C629.78,77.57 634.82,77.15 639.80,76.90C644.78,76.65 649.72,76.07 654.70,75.90C659.68,75.73 664.72,75.78 669.70,75.90C674.68,76.02 679.65,76.40 684.60,76.60C689.55,76.80 694.33,77.13 699.40,77.10C704.47,77.07 709.63,76.65 715.00,76.40C720.37,76.15 728.83,75.73 731.60,75.60" fill="none" stroke="#9400d3" stroke-width="1.50" stroke-linejoin="round"/>
<path d="M104.95,416.60L119.15,430.80M104.95,430.80L119.15,416.60" fill="none" stroke="#9400d3" stroke-width="1.50"/>
<path d="M222.20,167.90L236.40,182.10M222.20,182.10L236.40,167.90" fill="none" stroke="#9400d3" stroke-width="1.50"/>
<path d="M339.90,92.10L354.10,106.30M339.90,106.30L354.10,92.10" fill="none" stroke="#9400d3" stroke-width="1.50"/>
<path d="M457.35,62.90L471.55,77.10M457.35,77.10L471.55,62.90" fill="none" stroke="#9400d3" stroke-width="1.50"/>
<path d="M574.50,68.30L588.70,82.50M574.50,82.50L588.70,68.30" fill="none" stroke="#9400d3" stroke-width="1.50"/>
<path d="M692.30,70.00L706.50,84.20M692.30,84.20L706.50,70.00" fill="none" stroke="#9400d3" stroke-width="1.50"/>
</g>
<rect x="104.95" y="23.80" width="689.00" height="499.10" fill="none" stroke="#000" stroke-width="1.60"/>
<g style="mix-blend-mode:multiply">
<text x="157.40" y="610.60" text-anchor="end" font-size="19.80" textLength="68.64" lengthAdjust="spacingAndGlyphs">dt01<tspan dy="1.1">_</tspan><tspan dy="-1.1">C</tspan></text>
<path d="M170.10,603.70H228.70" stroke="#000000" stroke-width="1.50" fill="none"/>
<path d="M192.00,603.70H206.60M199.30,596.40V611.00" fill="none" stroke="#000000" stroke-width="1.50"/>
<text x="157.40" y="633.50" text-anchor="end" font-size="19.80" textLength="93.05" lengthAdjust="spacingAndGlyphs">dt0075<tspan dy="1.1">_</tspan><tspan dy="-1.1">A</tspan></text>
<path d="M170.10,626.60H228.70" stroke="#e51e10" stroke-width="1.50" fill="none"/>
<path d="M199.30,633.80L192.45,628.82L195.07,620.78L203.53,620.78L206.15,628.82Z" fill="none" stroke="#e51e10" stroke-width="1.50"/>
<text x="340.75" y="610.60" text-anchor="end" font-size="19.80" textLength="68.37" lengthAdjust="spacingAndGlyphs">dt02<tspan dy="1.1">_</tspan><tspan dy="-1.1">A</tspan></text>
<path d="M353.45,603.70H412.05" stroke="#0072b2" stroke-width="1.50" fill="none"/>
<path d="M382.65,596.60L375.75,603.70L382.65,610.80L389.55,603.70Z" fill="none" stroke="#0072b2" stroke-width="1.50"/>
<text x="340.75" y="633.50" text-anchor="end" font-size="19.80" textLength="68.64" lengthAdjust="spacingAndGlyphs">dt03<tspan dy="1.1">_</tspan><tspan dy="-1.1">C</tspan></text>
<path d="M353.45,626.60H412.05" stroke="#f0e442" stroke-width="1.50" fill="none"/>
<path d="M382.65,633.50L375.85,622.00L389.45,622.00Z" fill="none" stroke="#f0e442" stroke-width="1.50"/>
<text x="524.10" y="610.60" text-anchor="end" font-size="19.80" textLength="68.37" lengthAdjust="spacingAndGlyphs">dt01<tspan dy="1.1">_</tspan><tspan dy="-1.1">A</tspan></text>
<path d="M536.80,603.70H595.40" stroke="#e69f00" stroke-width="1.50" fill="none"/>
<path d="M566.00,596.80L559.20,608.60L572.80,608.60Z" fill="none" stroke="#e69f00" stroke-width="1.50"/>
<text x="524.10" y="633.50" text-anchor="end" font-size="19.80" textLength="68.64" lengthAdjust="spacingAndGlyphs">dt02<tspan dy="1.1">_</tspan><tspan dy="-1.1">C</tspan></text>
<path d="M536.80,626.60H595.40" stroke="#56b4e9" stroke-width="1.50" fill="none"/>
<circle cx="566.00" cy="626.60" r="7.20" fill="none" stroke="#56b4e9" stroke-width="1.50"/>
<text x="707.45" y="610.60" text-anchor="end" font-size="19.80" textLength="68.37" lengthAdjust="spacingAndGlyphs">dt03<tspan dy="1.1">_</tspan><tspan dy="-1.1">A</tspan></text>
<path d="M720.15,603.70H778.75" stroke="#009e73" stroke-width="1.50" fill="none"/>
<rect x="742.25" y="596.60" width="14.20" height="14.20" fill="none" stroke="#009e73" stroke-width="1.50"/>
<text x="707.45" y="633.50" text-anchor="end" font-size="19.80" textLength="93.32" lengthAdjust="spacingAndGlyphs">dt0075<tspan dy="1.1">_</tspan><tspan dy="-1.1">C</tspan></text>
<path d="M720.15,626.60H778.75" stroke="#9400d3" stroke-width="1.50" fill="none"/>
<path d="M742.25,619.50L756.45,633.70M742.25,633.70L756.45,619.50" fill="none" stroke="#9400d3" stroke-width="1.50"/>
</g>
</svg></body></html>
